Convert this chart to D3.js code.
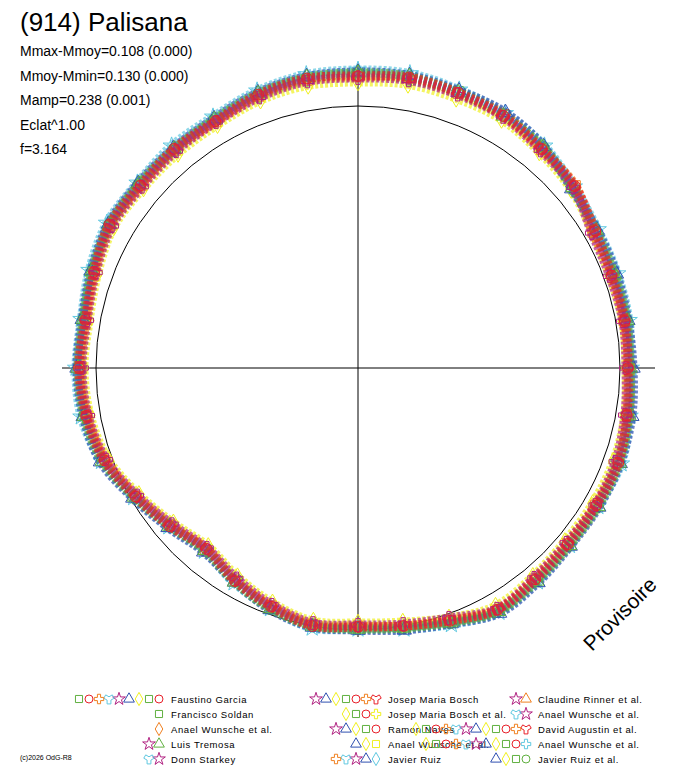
<!DOCTYPE html>
<html><head><meta charset="utf-8">
<script src="https://cdn.jsdelivr.net/npm/d3@7"></script>
<style>body{margin:0;background:#fff}svg{font-family:"Liberation Sans",Arial,sans-serif}</style>
</head><body><svg id="c" width="688" height="768"></svg>
<script>
// phase angles (deg, clockwise from top) and radial brightness per observer group (px from centre)
const angles = d3.range(0, 360, 10);
const seriesRed     = [292,295,293,291,286,283,274,270,271,270,273,277,275,274,276,279,269,262,259,262,254,246,236,246,257,270,276,279,277,281,287,284,286,285,291,294];
const seriesBlue    = [296,297,295,295,289,279,276,275,274,275,278,279,278,277,280,283,272,266,262,263,257,247,240,248,260,274,279,281,280,284,288,287,287,288,293,296];
const seriesMagenta = [290,292,291,290,284,281,270,268,269,268,271,274,274,272,274,278,266,260,257,259,252,243,235,243,255,268,274,276,275,279,284,282,283,284,288,291];
const seriesCyan    = [298,299,296,294,290,282,277,276,275,273,276,280,277,276,279,282,273,265,261,264,256,248,239,247,259,273,281,282,281,286,290,288,290,290,295,298];
const seriesYellow  = [286,288,287,287,282,278,271,268,269,268,271,272,271,270,272,275,266,258,255,257,250,241,233,241,253,266,272,274,273,277,282,280,280,281,285,287];
const seriesGreen   = [294,293,294,292,287,280,273,271,272,271,274,276,276,275,277,280,270,263,260,261,255,245,237,245,258,271,277,278,278,282,286,285,285,286,290,293];
const seriesOrange  = [291,294,292,293,285,284,271,272,270,272,275,277,274,273,275,279,268,262,258,260,253,246,238,244,256,269,275,277,276,280,285,283,284,284,289,292];
const seriesLime    = [295,296,293,291,288,281,275,273,273,272,275,278,277,276,278,281,271,264,261,262,256,247,238,246,258,272,278,280,279,283,287,286,286,287,292,295];
const seriesNames = ["Faustino Garcia","Francisco Soldan","Anael Wunsche et al.","Luis Tremosa","Donn Starkey",
  "Josep Maria Bosch","Josep Maria Bosch et al.","Ramon Naves","Anael Wunsche et al.","Javier Ruiz",
  "Claudine Rinner et al.","Anael Wunsche et al.","David Augustin et al.","Anael Wunsche et al.","Javier Ruiz et al."];
const infoLines = ["Mmax-Mmoy=0.108 (0.000)","Mmoy-Mmin=0.130 (0.000)","Mamp=0.238 (0.001)","Eclat^1.00","f=3.164"];

const col = {red:"#e8202a",blue:"#3050b0",mag:"#b02080",cyan:"#60c8e0",yel:"#f0f020",grn:"#60b040",ora:"#f08020"};
const groups = [
  {v:seriesYellow,c:col.yel,s:d3.symbolDiamond},{v:seriesCyan,c:col.cyan,s:d3.symbolStar},
  {v:seriesGreen,c:col.grn,s:d3.symbolWye},{v:seriesOrange,c:col.ora,s:d3.symbolSquare},
  {v:seriesBlue,c:col.blue,s:d3.symbolTriangle},{v:seriesLime,c:col.grn,s:d3.symbolTriangle},
  {v:seriesMagenta,c:col.mag,s:d3.symbolCross},{v:seriesRed,c:col.red,s:d3.symbolCircle}];

const svg = d3.select("#c");
const cx = 358, cy = 368;
const r = d3.scaleLinear().domain([0, 262]).range([0, 262]);
const a = d3.scaleLinear().domain([0, 360]).range([0, 2 * Math.PI]);

// axes
svg.append("line").attr("x1",62).attr("x2",655).attr("y1",cy).attr("y2",cy).attr("stroke","#000");
svg.append("line").attr("x1",cx).attr("x2",cx).attr("y1",65).attr("y2",637).attr("stroke","#000");
svg.append("circle").attr("cx",cx).attr("cy",cy).attr("r",r(262)).attr("fill","none").attr("stroke","#000");

// marks
const g = svg.append("g").attr("transform", `translate(${cx},${cy})`);
groups.forEach(grp => {
  const sym = d3.symbol().type(grp.s).size(90);
  const pts = angles.map((d, i) => [Math.sin(a(d)) * r(grp.v[i]), -Math.cos(a(d)) * r(grp.v[i])]);
  g.append("path").attr("d", d3.line().curve(d3.curveCardinalClosed)(pts))
    .attr("fill","none").attr("stroke",grp.c).attr("stroke-width",9).attr("stroke-dasharray","3 2").attr("opacity",0.7);
  g.selectAll(null).data(pts).enter().append("path")
    .attr("transform", p => `translate(${p[0]},${p[1]})`)
    .attr("d", sym).attr("fill","none").attr("stroke",grp.c).attr("stroke-width",1);
});

// texts
svg.append("text").attr("x",20).attr("y",31).attr("font-size",26).text("(914) Palisana");
infoLines.forEach((t, i) => svg.append("text").attr("x",20).attr("y",56 + i * 24.5).attr("font-size",14).text(t));
svg.append("text").attr("transform","translate(592,652) rotate(-45)").attr("font-size",21).text("Provisoire");
svg.append("text").attr("x",20).attr("y",760).attr("font-size",7).text("(c)2026 OdG-R8");

// legend
const legCols = [171, 388, 538], legRows = [703, 718, 733, 748, 763];
const legColors = [col.red,col.grn,col.ora,col.grn,col.mag,col.red,col.yel,col.red,col.yel,col.cyan,col.ora,col.mag,col.red,col.cyan,col.grn];
const legCount = [9,1,1,2,2,7,4,5,3,5,2,2,12,11,4];
const legSyms = [d3.symbolCircle,d3.symbolSquare,d3.symbolDiamond,d3.symbolTriangle,d3.symbolStar,d3.symbolWye,d3.symbolCross];
seriesNames.forEach((n, i) => {
  const x = legCols[Math.floor(i / 5)], y = legRows[i % 5];
  svg.append("text").attr("x",x).attr("y",y).attr("font-size",9.5).attr("letter-spacing",0.6).text(n);
  const cs = [col.red,col.grn,col.yel,col.blue,col.mag,col.cyan,col.ora];
  for (let k = 0; k < legCount[i]; k++) {
    svg.append("path").attr("transform",`translate(${x - 12 - k * 10},${y - 4})`)
      .attr("d", d3.symbol().type(legSyms[(i + k) % 7]).size(50))
      .attr("fill","none").attr("stroke", k === 0 ? legColors[i] : cs[(i + k) % 7]);
  }
});
</script></body></html>
